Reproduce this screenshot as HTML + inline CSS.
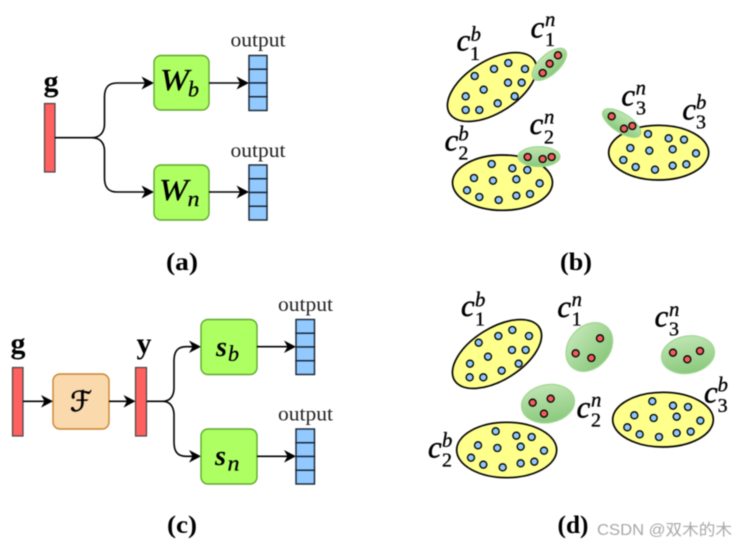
<!DOCTYPE html>
<html><head><meta charset="utf-8">
<style>
html,body{margin:0;padding:0;background:#fff}
body{width:748px;height:548px;overflow:hidden}
svg{display:block;filter:blur(.45px)}
text{font-family:"Liberation Serif",serif;fill:#111}
.out{font-size:20.5px;text-anchor:middle;fill:#222}
.bl{font-weight:bold;font-size:25px;text-anchor:middle;fill:#000}
.gy{font-weight:bold;font-size:30px;text-anchor:middle;fill:#000}
.W{font-style:italic;font-size:31px;fill:#000;stroke:#000;stroke-width:.35}
.sub{font-style:italic;font-size:22px;fill:#000;stroke:#000;stroke-width:.25}
.s{font-style:italic;font-weight:bold;font-size:29px;fill:#000}
.c{font-style:italic;font-size:92px;fill:#000;stroke:#000;stroke-width:1.6}
.u{font-style:italic;font-size:62px;fill:#000;stroke:#000;stroke-width:1}
.d{font-size:60px;fill:#000;stroke:#000;stroke-width:1}
.line{fill:none;stroke:#000;stroke-width:1.6}
.ar{fill:#000}
.red{fill:#ff6060;stroke:#444;stroke-width:1.2}
.gb{fill:#aeff62;stroke:#5fa82e;stroke-width:1.4}
.ob{fill:#fad9ad;stroke:#cb8430;stroke-width:1.4}
.cell{fill:#92c9ff;stroke:#14222f;stroke-width:1.4}
.ye{fill:#ffff8c;stroke:#000;stroke-width:5}
.gr{fill:url(#gg);stroke:#9fd690;stroke-width:3.5}
.b{fill:#8ec8ff;stroke:#000;stroke-width:4}
.r{fill:#f25c5c;stroke:#000;stroke-width:4}
</style></head>
<body>
<svg width="748" height="548" viewBox="0 0 748 548" xmlns="http://www.w3.org/2000/svg">
<defs>
<linearGradient id="gg" x1="0" y1="0" x2="0" y2="1"><stop offset="0" stop-color="#bfe5b3"/><stop offset="1" stop-color="#8ac97c"/></linearGradient>
</defs>
<rect width="748" height="548" fill="#fff"/>

<!-- Panel a -->
<text class="gy" x="51" y="91">g</text>
<rect class="red" x="44.5" y="103.5" width="10.5" height="68.5"/>
<path class="line" d="M55 137.7H92C100 137.7 104.500 132 104.500 124V97C104.500 88 108 83 117 83H145"/>
<path class="line" d="M92 137.700C100 137.700 104.500 143 104.500 151V178C104.500 187 108 192 117 192H145"/>
<polygon class="ar" points="154,83 141.500,76.500 145,83 141.500,89.500"/>
<polygon class="ar" points="154,192 141.500,185.500 145,192 141.500,198.500"/>
<rect class="gb" x="154" y="55.500" width="55" height="54.500" rx="7"/>
<rect class="gb" x="154" y="165" width="55" height="55" rx="7"/>
<text class="W" x="160" y="90" textLength="29" lengthAdjust="spacingAndGlyphs">W</text>
<text class="sub" x="188" y="96.500">b</text>
<text class="W" x="159" y="200" textLength="29" lengthAdjust="spacingAndGlyphs">W</text>
<text class="sub" x="187.500" y="206" textLength="12" lengthAdjust="spacingAndGlyphs">n</text>
<path class="line" d="M209 83H241M209 192H241"/>
<polygon class="ar" points="249,83 236.500,76.500 240,83 236.500,89.500"/>
<polygon class="ar" points="249,192 236.500,185.500 240,192 236.500,198.500"/>
<g class="cell">
<rect x="249" y="55.500" width="18" height="13.750"/><rect x="249" y="69.250" width="18" height="13.750"/><rect x="249" y="83" width="18" height="13.750"/><rect x="249" y="96.750" width="18" height="13.750"/>
<rect x="249" y="165" width="18" height="13.750"/><rect x="249" y="178.750" width="18" height="13.750"/><rect x="249" y="192.500" width="18" height="13.750"/><rect x="249" y="206.250" width="18" height="13.750"/>
</g>
<text class="out" x="258" y="46.500" textLength="55" lengthAdjust="spacingAndGlyphs">output</text>
<text class="out" x="258" y="157" textLength="55" lengthAdjust="spacingAndGlyphs">output</text>
<text class="bl" x="182" y="270" textLength="32" lengthAdjust="spacingAndGlyphs">(a)</text>

<!-- Panel c -->
<text class="gy" x="18" y="353">g</text>
<text class="gy" x="144" y="353">y</text>
<rect class="red" x="12.500" y="367.500" width="10.500" height="68.500"/>
<rect class="red" x="135.500" y="367.500" width="11" height="68.500"/>
<rect class="ob" x="53" y="374" width="56" height="55" rx="7"/>
<text x="81" y="411" text-anchor="middle" style="font-family:'DejaVu Sans',sans-serif;font-style:italic;font-size:28px;fill:#000;stroke:#000;stroke-width:.6">ℱ</text>
<path class="line" d="M23 401.300H46M109 401.300H127"/>
<polygon class="ar" points="53,401.300 41,395 44.500,401.300 41,407.600"/>
<polygon class="ar" points="135.500,401.300 123.500,395 127,401.300 123.500,407.600"/>
<path class="line" d="M147 401.300H163C170 401.300 174 396 174 388V361C174 352 177 346.700 186 346.700H193"/>
<path class="line" d="M163 401.300C170 401.300 174 407 174 415V442C174 451 177 456.300 186 456.300H193"/>
<polygon class="ar" points="201,346.700 189,340.500 192.500,346.700 189,353"/>
<polygon class="ar" points="201,456.300 189,450 192.500,456.300 189,462.600"/>
<rect class="gb" x="201" y="319.500" width="56" height="55" rx="7"/>
<rect class="gb" x="201" y="429" width="56" height="55" rx="7"/>
<text class="s" x="216" y="356" textLength="11" lengthAdjust="spacingAndGlyphs">s</text>
<text class="sub" x="228" y="361">b</text>
<text class="s" x="215" y="465" textLength="11" lengthAdjust="spacingAndGlyphs">s</text>
<text class="sub" x="227.500" y="470.500" textLength="12" lengthAdjust="spacingAndGlyphs">n</text>
<path class="line" d="M257 346.700H288M257 456.300H288"/>
<polygon class="ar" points="296,346.700 284,340.500 287.500,346.700 284,353"/>
<polygon class="ar" points="296,456.300 284,450 287.500,456.300 284,462.600"/>
<g class="cell">
<rect x="296" y="319.500" width="18.500" height="13.750"/><rect x="296" y="333.250" width="18.500" height="13.750"/><rect x="296" y="347" width="18.500" height="13.750"/><rect x="296" y="360.750" width="18.500" height="13.750"/>
<rect x="296" y="429" width="18.500" height="13.750"/><rect x="296" y="442.750" width="18.500" height="13.750"/><rect x="296" y="456.500" width="18.500" height="13.750"/><rect x="296" y="470.250" width="18.500" height="13.750"/>
</g>
<text class="out" x="305.500" y="311" textLength="55" lengthAdjust="spacingAndGlyphs">output</text>
<text class="out" x="305.500" y="420.500" textLength="55" lengthAdjust="spacingAndGlyphs">output</text>
<text class="bl" x="182" y="533" textLength="30" lengthAdjust="spacingAndGlyphs">(c)</text>

<!-- Panel b -->
<g transform="translate(430,10) scale(.33333)">
<ellipse class="ye" cx="186" cy="231" rx="150" ry="78" transform="rotate(-32 186 231)"/>
<ellipse class="ye" cx="217.500" cy="518" rx="150" ry="83"/>
<ellipse class="ye" cx="686" cy="428" rx="150" ry="82"/>
<g class="b">
<circle r="10.500" cx="134" cy="198"/><circle r="10.500" cx="192" cy="177"/><circle r="10.500" cx="235" cy="159"/><circle r="10.500" cx="285" cy="177"/><circle r="10.500" cx="234" cy="218"/><circle r="10.500" cx="275" cy="218"/><circle r="10.500" cx="161" cy="239"/><circle r="10.500" cx="107" cy="259"/><circle r="10.500" cx="254" cy="259"/><circle r="10.500" cx="203" cy="280"/><circle r="10.500" cx="107" cy="300"/><circle r="10.500" cx="148" cy="300"/>
<circle r="10.500" cx="185" cy="462"/><circle r="10.500" cx="247" cy="475"/><circle r="10.500" cx="292" cy="480"/><circle r="10.500" cx="132" cy="504"/><circle r="10.500" cx="189" cy="512"/><circle r="10.500" cx="259" cy="508"/><circle r="10.500" cx="329" cy="520"/><circle r="10.500" cx="111" cy="541"/><circle r="10.500" cx="148" cy="561"/><circle r="10.500" cx="206" cy="570"/><circle r="10.500" cx="259" cy="557"/><circle r="10.500" cx="300" cy="552"/>
<circle r="10.500" cx="654" cy="372"/><circle r="10.500" cx="716" cy="385"/><circle r="10.500" cx="762" cy="389"/><circle r="10.500" cx="601" cy="414"/><circle r="10.500" cx="658" cy="422"/><circle r="10.500" cx="728" cy="418"/><circle r="10.500" cx="798" cy="430"/><circle r="10.500" cx="580" cy="450"/><circle r="10.500" cx="617" cy="471"/><circle r="10.500" cx="675" cy="479"/><circle r="10.500" cx="728" cy="467"/><circle r="10.500" cx="769" cy="463"/>
</g>
<ellipse class="gr" cx="358" cy="163" rx="64" ry="30" transform="rotate(-42 358 163)"/>
<ellipse class="gr" cx="327" cy="440" rx="63" ry="30"/>
<ellipse class="gr" cx="575" cy="339" rx="66" ry="28" transform="rotate(33 575 339)"/>
<g class="r">
<circle r="10.500" cx="384" cy="136"/><circle r="10.500" cx="359" cy="161"/><circle r="10.500" cx="338" cy="189"/>
<circle r="10.500" cx="293" cy="441"/><circle r="10.500" cx="338" cy="447"/><circle r="10.500" cx="365" cy="441"/>
<circle r="10.500" cx="545" cy="319"/><circle r="10.500" cx="582" cy="356"/><circle r="10.500" cx="607" cy="348"/>
</g>
<text class="c" x="80" y="122">c</text><text class="u" x="122" y="93">b</text><text class="d" x="120" y="150">1</text>
<text class="c" x="302" y="82">c</text><text class="u" x="345" y="48">n</text><text class="d" x="345" y="108">1</text>
<text class="c" x="299" y="372">c</text><text class="u" x="342" y="340">n</text><text class="d" x="342" y="400">2</text>
<text class="c" x="44" y="421">c</text><text class="u" x="85" y="392">b</text><text class="d" x="85" y="449">2</text>
<text class="c" x="574" y="286">c</text><text class="u" x="617" y="253">n</text><text class="d" x="618" y="314">3</text>
<text class="c" x="757" y="329">c</text><text class="u" x="798" y="297">b</text><text class="d" x="798" y="356">3</text>
</g>
<text class="bl" x="576" y="270" textLength="32" lengthAdjust="spacingAndGlyphs">(b)</text>

<!-- Panel d -->
<g transform="translate(420,285) scale(.33333)">
<ellipse class="ye" cx="231" cy="207" rx="150" ry="78" transform="rotate(-32 231 207)"/>
<ellipse class="ye" cx="260" cy="495" rx="150" ry="83"/>
<ellipse class="ye" cx="729" cy="404" rx="151" ry="82"/>
<g class="b">
<circle r="10.500" cx="176" cy="173"/><circle r="10.500" cx="235" cy="153"/><circle r="10.500" cx="277" cy="135"/><circle r="10.500" cx="327" cy="153"/><circle r="10.500" cx="276" cy="195"/><circle r="10.500" cx="317" cy="195"/><circle r="10.500" cx="204" cy="215"/><circle r="10.500" cx="150" cy="236"/><circle r="10.500" cx="296" cy="236"/><circle r="10.500" cx="245" cy="257"/><circle r="10.500" cx="149" cy="277"/><circle r="10.500" cx="190" cy="277"/>
<circle r="10.500" cx="227" cy="439"/><circle r="10.500" cx="289" cy="452"/><circle r="10.500" cx="335" cy="456"/><circle r="10.500" cx="174" cy="481"/><circle r="10.500" cx="232" cy="489"/><circle r="10.500" cx="302" cy="485"/><circle r="10.500" cx="372" cy="497"/><circle r="10.500" cx="153" cy="518"/><circle r="10.500" cx="190" cy="539"/><circle r="10.500" cx="248" cy="547"/><circle r="10.500" cx="302" cy="535"/><circle r="10.500" cx="343" cy="530"/>
<circle r="10.500" cx="697" cy="349"/><circle r="10.500" cx="759" cy="362"/><circle r="10.500" cx="804" cy="366"/><circle r="10.500" cx="643" cy="391"/><circle r="10.500" cx="701" cy="399"/><circle r="10.500" cx="770" cy="395"/><circle r="10.500" cx="841" cy="407"/><circle r="10.500" cx="622" cy="427"/><circle r="10.500" cx="659" cy="448"/><circle r="10.500" cx="717" cy="456"/><circle r="10.500" cx="770" cy="444"/><circle r="10.500" cx="812" cy="440"/>
</g>
<ellipse class="gr" cx="508" cy="186" rx="80" ry="62" transform="rotate(-50 508 186)"/>
<ellipse class="gr" cx="804" cy="209" rx="80" ry="56" transform="rotate(-10 804 209)"/>
<ellipse class="gr" cx="384" cy="356" rx="80" ry="57" transform="rotate(-10 384 356)"/>
<g class="r">
<circle r="10.500" cx="540" cy="160"/><circle r="10.500" cx="467" cy="205"/><circle r="10.500" cx="514" cy="219"/>
<circle r="10.500" cx="759" cy="203"/><circle r="10.500" cx="802" cy="223"/><circle r="10.500" cx="840" cy="198"/>
<circle r="10.500" cx="338" cy="353"/><circle r="10.500" cx="392" cy="341"/><circle r="10.500" cx="372" cy="386"/>
</g>
<text class="c" x="123" y="93">c</text><text class="u" x="165" y="65">b</text><text class="d" x="165" y="122">1</text>
<text class="c" x="412" y="96">c</text><text class="u" x="455" y="63">n</text><text class="d" x="455" y="122">1</text>
<text class="c" x="704" y="125">c</text><text class="u" x="747" y="93">n</text><text class="d" x="747" y="151">3</text>
<text class="c" x="470" y="398">c</text><text class="u" x="513" y="365">n</text><text class="d" x="513" y="425">2</text>
<text class="c" x="852" y="353">c</text><text class="u" x="893" y="320">b</text><text class="d" x="893" y="381">3</text>
<text class="c" x="24" y="518">c</text><text class="u" x="66" y="486">b</text><text class="d" x="66" y="545">2</text>
</g>
<text class="bl" x="573" y="533" textLength="31" lengthAdjust="spacingAndGlyphs">(d)</text>
<text x="597" y="535" textLength="135" lengthAdjust="spacingAndGlyphs" style="font-family:'Liberation Sans','Noto Sans CJK SC',sans-serif;font-size:15.500px;fill:#a8a8a8">CSDN @双木的木</text>
</svg>
</body></html>
